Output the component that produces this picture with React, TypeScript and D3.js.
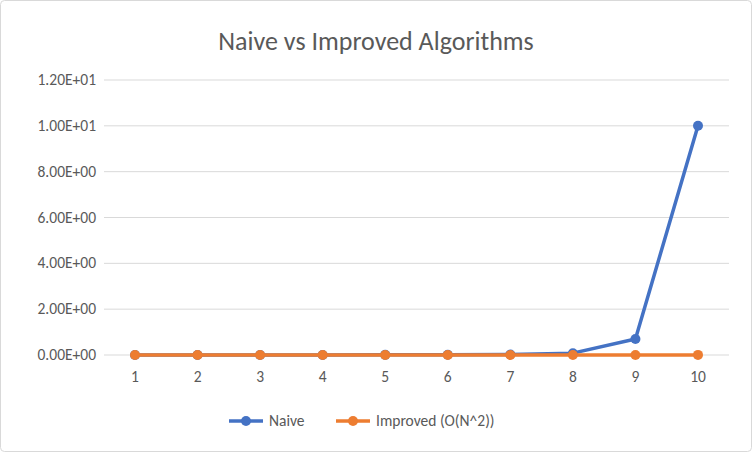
import React from "react";
import * as d3 from "d3";

const categories = ["1","2","3","4","5","6","7","8","9","10"];
const naive = [0.0001, 0.0005, 0.001, 0.003, 0.006, 0.01, 0.02, 0.08, 0.7, 10];
const improved = [0, 0, 0, 0, 0, 0, 0, 0.001, 0.002, 0.004];
const yTicks = [0, 2, 4, 6, 8, 10, 12];
const seriesNames = ["Naive", "Improved (O(N^2))"];
const colors = ["#4472C4", "#ED7D31"];

const fmt = (v: number) => {
  if (v === 0) return "0.00E+00";
  const e = Math.floor(Math.log10(v));
  const m = v / Math.pow(10, e);
  return m.toFixed(2) + "E+" + String(e).padStart(2, "0");
};

export default function App() {
  const W = 752, H = 452;
  const x = d3.scalePoint().domain(categories).range([135, 698]);
  const y = d3.scaleLinear().domain([0, 12]).range([355, 80]);
  const line = d3.line<number>().x((_, i) => x(categories[i])!).y(d => y(d));
  const txt = "#595959";
  const font = "Calibri, Carlito, Lato, 'Liberation Sans', Arial, sans-serif";
  return (
    <svg width={W} height={H} style={{ position: "absolute", left: 0, top: 0, fontFamily: font }}>
      <rect x={0.5} y={0.5} width={W - 1} height={H - 1} fill="#fff" stroke="#d9d9d9" rx={4} />
      <text x={376} y={50} textAnchor="middle" fontSize={26} fill={txt}>Naive vs Improved Algorithms</text>
      {yTicks.map(t => (
        <g key={t}>
          <line x1={104} x2={729} y1={y(t)} y2={y(t)} stroke="#d9d9d9" />
          <text x={96} y={y(t) + 5} textAnchor="end" fontSize={15.5} fill={txt}>{fmt(t)}</text>
        </g>
      ))}
      {categories.map(c => (
        <text key={c} x={x(c)} y={382} textAnchor="middle" fontSize={15.5} fill={txt}>{c}</text>
      ))}
      {[naive, improved].map((s, k) => (
        <g key={k}>
          <path d={line(s)!} fill="none" stroke={colors[k]} strokeWidth={3.5} strokeLinejoin="round" />
          {s.map((v, i) => <circle key={i} cx={x(categories[i])} cy={y(v)} r={5} fill={colors[k]} />)}
        </g>
      ))}
      {seriesNames.map((n, k) => {
        const lx = k === 0 ? 229 : 336;
        return (
          <g key={n}>
            <line x1={lx} x2={lx + 34} y1={421} y2={421} stroke={colors[k]} strokeWidth={3.5} />
            <circle cx={lx + 17} cy={421} r={5} fill={colors[k]} />
            <text x={lx + 40} y={426} fontSize={15.5} fill={txt}>{n}</text>
          </g>
        );
      })}
    </svg>
  );
}
